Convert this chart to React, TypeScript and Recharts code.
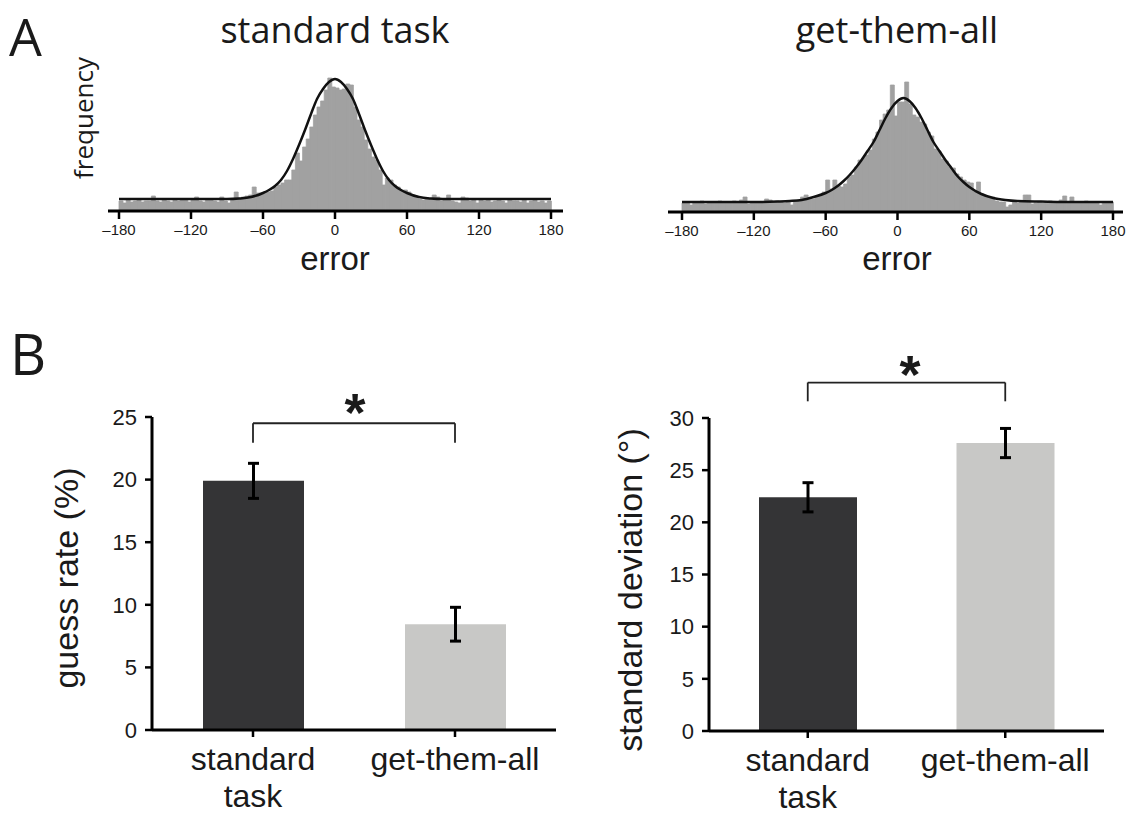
import { Bar, BarChart, Cell, ComposedChart, ErrorBar, Line, ReferenceLine, XAxis, YAxis } from 'recharts';

// error histograms, 3 degree bins from -180 to 180 (120 bins)
const errorTicks = [-180, -120, -60, 0, 60, 120, 180];

const standardCounts = [
    10, 8, 11, 9, 10, 11, 9, 10, 10, 15,
    10, 9, 11, 10, 9, 11, 10, 11, 12, 9,
    11, 14, 10, 9, 12, 11, 10, 9, 14, 10,
    8, 11, 19, 13, 14, 15, 16, 24, 18, 18,
    19, 19, 20, 24, 26, 28, 31, 31, 41, 58,
    50, 64, 72, 84, 96, 104, 110, 121, 133, 124,
    123, 121, 122, 127, 126, 104, 91, 84, 71, 62,
    54, 51, 41, 26, 33, 31, 26, 24, 20, 21,
    19, 16, 15, 12, 11, 13, 12, 16, 14, 10,
    11, 16, 10, 9, 8, 14, 13, 10, 11, 8,
    11, 10, 11, 9, 10, 11, 10, 8, 11, 10,
    10, 9, 11, 8, 10, 11, 9, 10, 8, 10,
];

const getAllCounts = [
    9, 10, 7, 10, 9, 11, 8, 10, 9, 10,
    11, 9, 10, 10, 11, 10, 12, 15, 8, 9,
    10, 9, 10, 13, 12, 10, 11, 10, 9, 10,
    7, 11, 12, 15, 17, 14, 13, 16, 17, 20,
    32, 23, 32, 26, 25, 28, 35, 37, 45, 52,
    54, 57, 62, 73, 80, 92, 98, 102, 127, 96,
    110, 110, 130, 108, 97, 95, 90, 88, 80, 76,
    63, 61, 53, 51, 45, 44, 38, 35, 32, 30,
    29, 20, 30, 18, 16, 15, 15, 11, 10, 10,
    5, 7, 10, 9, 11, 17, 17, 8, 9, 10,
    9, 10, 11, 9, 10, 12, 16, 10, 15, 9,
    10, 9, 11, 10, 9, 10, 7, 10, 9, 10,
];

// fitted mixture curves
const fitAngles = [-180, -150, -120, -100, -90, -80, -70, -60, -55, -50, -45, -40, -35, -30, -25, -20, -15, -10, -5, 0,
    5, 10, 15, 20, 25, 30, 35, 40, 45, 50, 55, 60, 70, 80, 90, 100, 120, 150, 180];
const standardFit = [12, 12, 12, 12, 12, 12.5, 14, 18, 21, 25, 31, 40, 52, 66, 81, 97, 112, 122, 129, 132,
    129, 122, 112, 97, 81, 66, 52, 40, 31, 25, 21, 18, 14, 12.5, 12, 12, 12, 12, 12];
const getAllFit = [10, 10, 10, 10.5, 11, 12, 15, 19, 22, 26, 31, 37, 44, 52, 61, 70, 82, 94, 104, 111,
    114, 111, 104, 94, 82, 70, 61, 52, 44, 36, 30, 25, 18, 14, 12, 11, 10.5, 10, 10];

// panel B
const conditions = ['standard task', 'get-them-all'];
const guessRate = [19.9, 8.45];
const guessRateSE = [1.4, 1.35];
const sdValues = [22.4, 27.6];
const sdSE = [1.4, 1.4];
const barColors = ['#343436', '#c8c8c6'];

const SANS = '"Liberation Sans", Arial, Helvetica, sans-serif';
const TITLE = '"Open Sans", "Noto Sans", sans-serif';
const INK = '#1a1a1a';

const formatError = (v: number) => String(v).replace('-', '\u2013');

interface HistProps {
    counts: number[];
    fit: number[];
    left: number;
    top: number;
    width: number;
    margin: { top: number; right: number; bottom: number; left: number };
    pad: { left: number; right: number };
}

const Histogram = ({ counts, fit, left, top, width, margin, pad }: HistProps) => {
    const data = counts.map((count, i) => ({ bin: -178.5 + 3 * i, count }));
    const curve = fitAngles.map((deg, i) => ({ deg, f: fit[i] }));
    return (
        <div style={{ position: 'absolute', left, top }}>
            <ComposedChart width={width} height={220} data={data} margin={margin} barCategoryGap={0} barGap={0}>
                <XAxis xAxisId="bins" dataKey="bin" type="category" hide height={0} padding={pad} />
                <XAxis
                    xAxisId="deg"
                    dataKey="deg"
                    type="number"
                    domain={[-180, 180]}
                    ticks={errorTicks}
                    interval={0}
                    padding={pad}
                    tickFormatter={formatError}
                    tickSize={8}
                    tickMargin={5}
                    axisLine={{ stroke: '#000', strokeWidth: 3 }}
                    tickLine={{ stroke: '#000', strokeWidth: 2.5 }}
                    tick={{ fill: INK, fontSize: 15, fontFamily: SANS }}
                />
                <YAxis hide domain={[0, 140]} />
                <Bar xAxisId="bins" dataKey="count" fill="#a1a1a1" stroke="#a1a1a1" strokeWidth={0.8} isAnimationActive={false} />
                <Line
                    xAxisId="deg"
                    data={curve}
                    dataKey="f"
                    type="monotone"
                    stroke="#111"
                    strokeWidth={2.5}
                    dot={false}
                    isAnimationActive={false}
                />
            </ComposedChart>
        </div>
    );
};

const CategoryTick = (props: any) => {
    const { x, y, payload } = props;
    const lines = String(payload.value).split(' ');
    return (
        <text x={x} y={y} textAnchor="middle" fontSize={32} fontFamily={SANS} fill={INK}>
            {lines.map((line, i) => (
                <tspan key={line} x={x} y={y + 33 + i * 37}>{line}</tspan>
            ))}
        </text>
    );
};

interface BarProps {
    values: number[];
    errors: number[];
    domain: [number, number];
    ticks: number[];
    left: number;
    top: number;
    width: number;
    height: number;
    marginTop: number;
    marginRight: number;
    yWidth: number;
    xHeight: number;
    barSize: number;
    bracket: [number, number];
}

const ConditionChart = (p: BarProps) => {
    const data = conditions.map((name, i) => ({ name, value: p.values[i], se: p.errors[i] }));
    const [bracketTop, bracketLeg] = p.bracket;
    return (
        <div style={{ position: 'absolute', left: p.left, top: p.top }}>
            <BarChart
                width={p.width}
                height={p.height}
                data={data}
                margin={{ top: p.marginTop, right: p.marginRight, bottom: 0, left: 0 }}
            >
                <XAxis
                    dataKey="name"
                    interval={0}
                    height={p.xHeight}
                    tickSize={7}
                    tickMargin={0}
                    tick={<CategoryTick />}
                    axisLine={{ stroke: '#000', strokeWidth: 3 }}
                    tickLine={{ stroke: '#000', strokeWidth: 2.5 }}
                />
                <YAxis
                    domain={p.domain}
                    ticks={p.ticks}
                    interval={0}
                    width={p.yWidth}
                    tickSize={7}
                    tickMargin={8}
                    axisLine={{ stroke: '#000', strokeWidth: 3 }}
                    tickLine={{ stroke: '#000', strokeWidth: 2.5 }}
                    tick={{ fill: INK, fontSize: 22, fontFamily: SANS }}
                />
                <Bar dataKey="value" barSize={p.barSize} isAnimationActive={false}>
                    {data.map((d, i) => (
                        <Cell key={d.name} fill={barColors[i]} />
                    ))}
                    <ErrorBar dataKey="se" width={5.5} strokeWidth={3} stroke="#000" />
                </Bar>
                <ReferenceLine
                    segment={[{ x: conditions[0], y: bracketTop }, { x: conditions[1], y: bracketTop }]}
                    ifOverflow="visible"
                    stroke="#222"
                    strokeWidth={1.8}
                />
                <ReferenceLine
                    segment={[{ x: conditions[0], y: bracketTop }, { x: conditions[0], y: bracketLeg }]}
                    ifOverflow="visible"
                    stroke="#222"
                    strokeWidth={1.8}
                />
                <ReferenceLine
                    segment={[{ x: conditions[1], y: bracketTop }, { x: conditions[1], y: bracketLeg }]}
                    ifOverflow="visible"
                    stroke="#222"
                    strokeWidth={1.8}
                />
            </BarChart>
        </div>
    );
};

const App = () => {
    return (
        <div style={{ position: 'absolute', left: 0, top: 0, width: 1138, height: 819, background: '#fff' }}>
            <Histogram
                counts={standardCounts}
                fit={standardFit}
                left={90}
                top={50}
                width={500}
                margin={{ top: 21, right: 27, bottom: 29, left: 18 }}
                pad={{ left: 11, right: 12 }}
            />
            <Histogram
                counts={getAllCounts}
                fit={getAllFit}
                left={650}
                top={51}
                width={488}
                margin={{ top: 21, right: 15, bottom: 29, left: 18 }}
                pad={{ left: 14, right: 10 }}
            />
            <ConditionChart
                values={guessRate}
                errors={guessRateSE}
                domain={[0, 25]}
                ticks={[0, 5, 10, 15, 20, 25]}
                left={0}
                top={380}
                width={600}
                height={439}
                marginTop={37}
                marginRight={44}
                yWidth={152}
                xHeight={89}
                barSize={101}
                bracket={[24.5, 22.95]}
            />
            <ConditionChart
                values={sdValues}
                errors={sdSE}
                domain={[0, 30]}
                ticks={[0, 5, 10, 15, 20, 25, 30]}
                left={560}
                top={340}
                width={578}
                height={479}
                marginTop={78}
                marginRight={34}
                yWidth={149}
                xHeight={88}
                barSize={98}
                bracket={[33.4, 31.6]}
            />
            <svg
                width={1138}
                height={819}
                style={{ position: 'absolute', left: 0, top: 0, pointerEvents: 'none' }}
            >
                <text x={9} y={56} fontSize={52} fontFamily={TITLE} fill={INK}>A</text>
                <text x={10} y={375} fontSize={56} fontFamily={TITLE} fill={INK}>B</text>
                <text x={335} y={43} fontSize={36} fontFamily={TITLE} fill={INK} textAnchor="middle">standard task</text>
                <text x={897} y={43} fontSize={36} fontFamily={TITLE} fill={INK} textAnchor="middle">get-them-all</text>
                <text x={93} y={118} fontSize={26} fontFamily={TITLE} fill={INK} textAnchor="middle" transform="rotate(-90 93 118)">frequency</text>
                <text x={335} y={270} fontSize={33} fontFamily={SANS} fill={INK} textAnchor="middle">error</text>
                <text x={897} y={270} fontSize={33} fontFamily={SANS} fill={INK} textAnchor="middle">error</text>
                <text x={78} y={578} fontSize={34} fontFamily={SANS} fill={INK} textAnchor="middle" transform="rotate(-90 78 578)">guess rate (%)</text>
                <text x={642} y={590} fontSize={34} fontFamily={SANS} fill={INK} textAnchor="middle" transform="rotate(-90 642 590)">standard deviation (°)</text>
                <text x={355} y={431} fontSize={54} fontWeight="bold" fontFamily={SANS} fill={INK} textAnchor="middle">*</text>
                <text x={910} y={393} fontSize={54} fontWeight="bold" fontFamily={SANS} fill={INK} textAnchor="middle">*</text>
            </svg>
        </div>
    );
};

export default App;
